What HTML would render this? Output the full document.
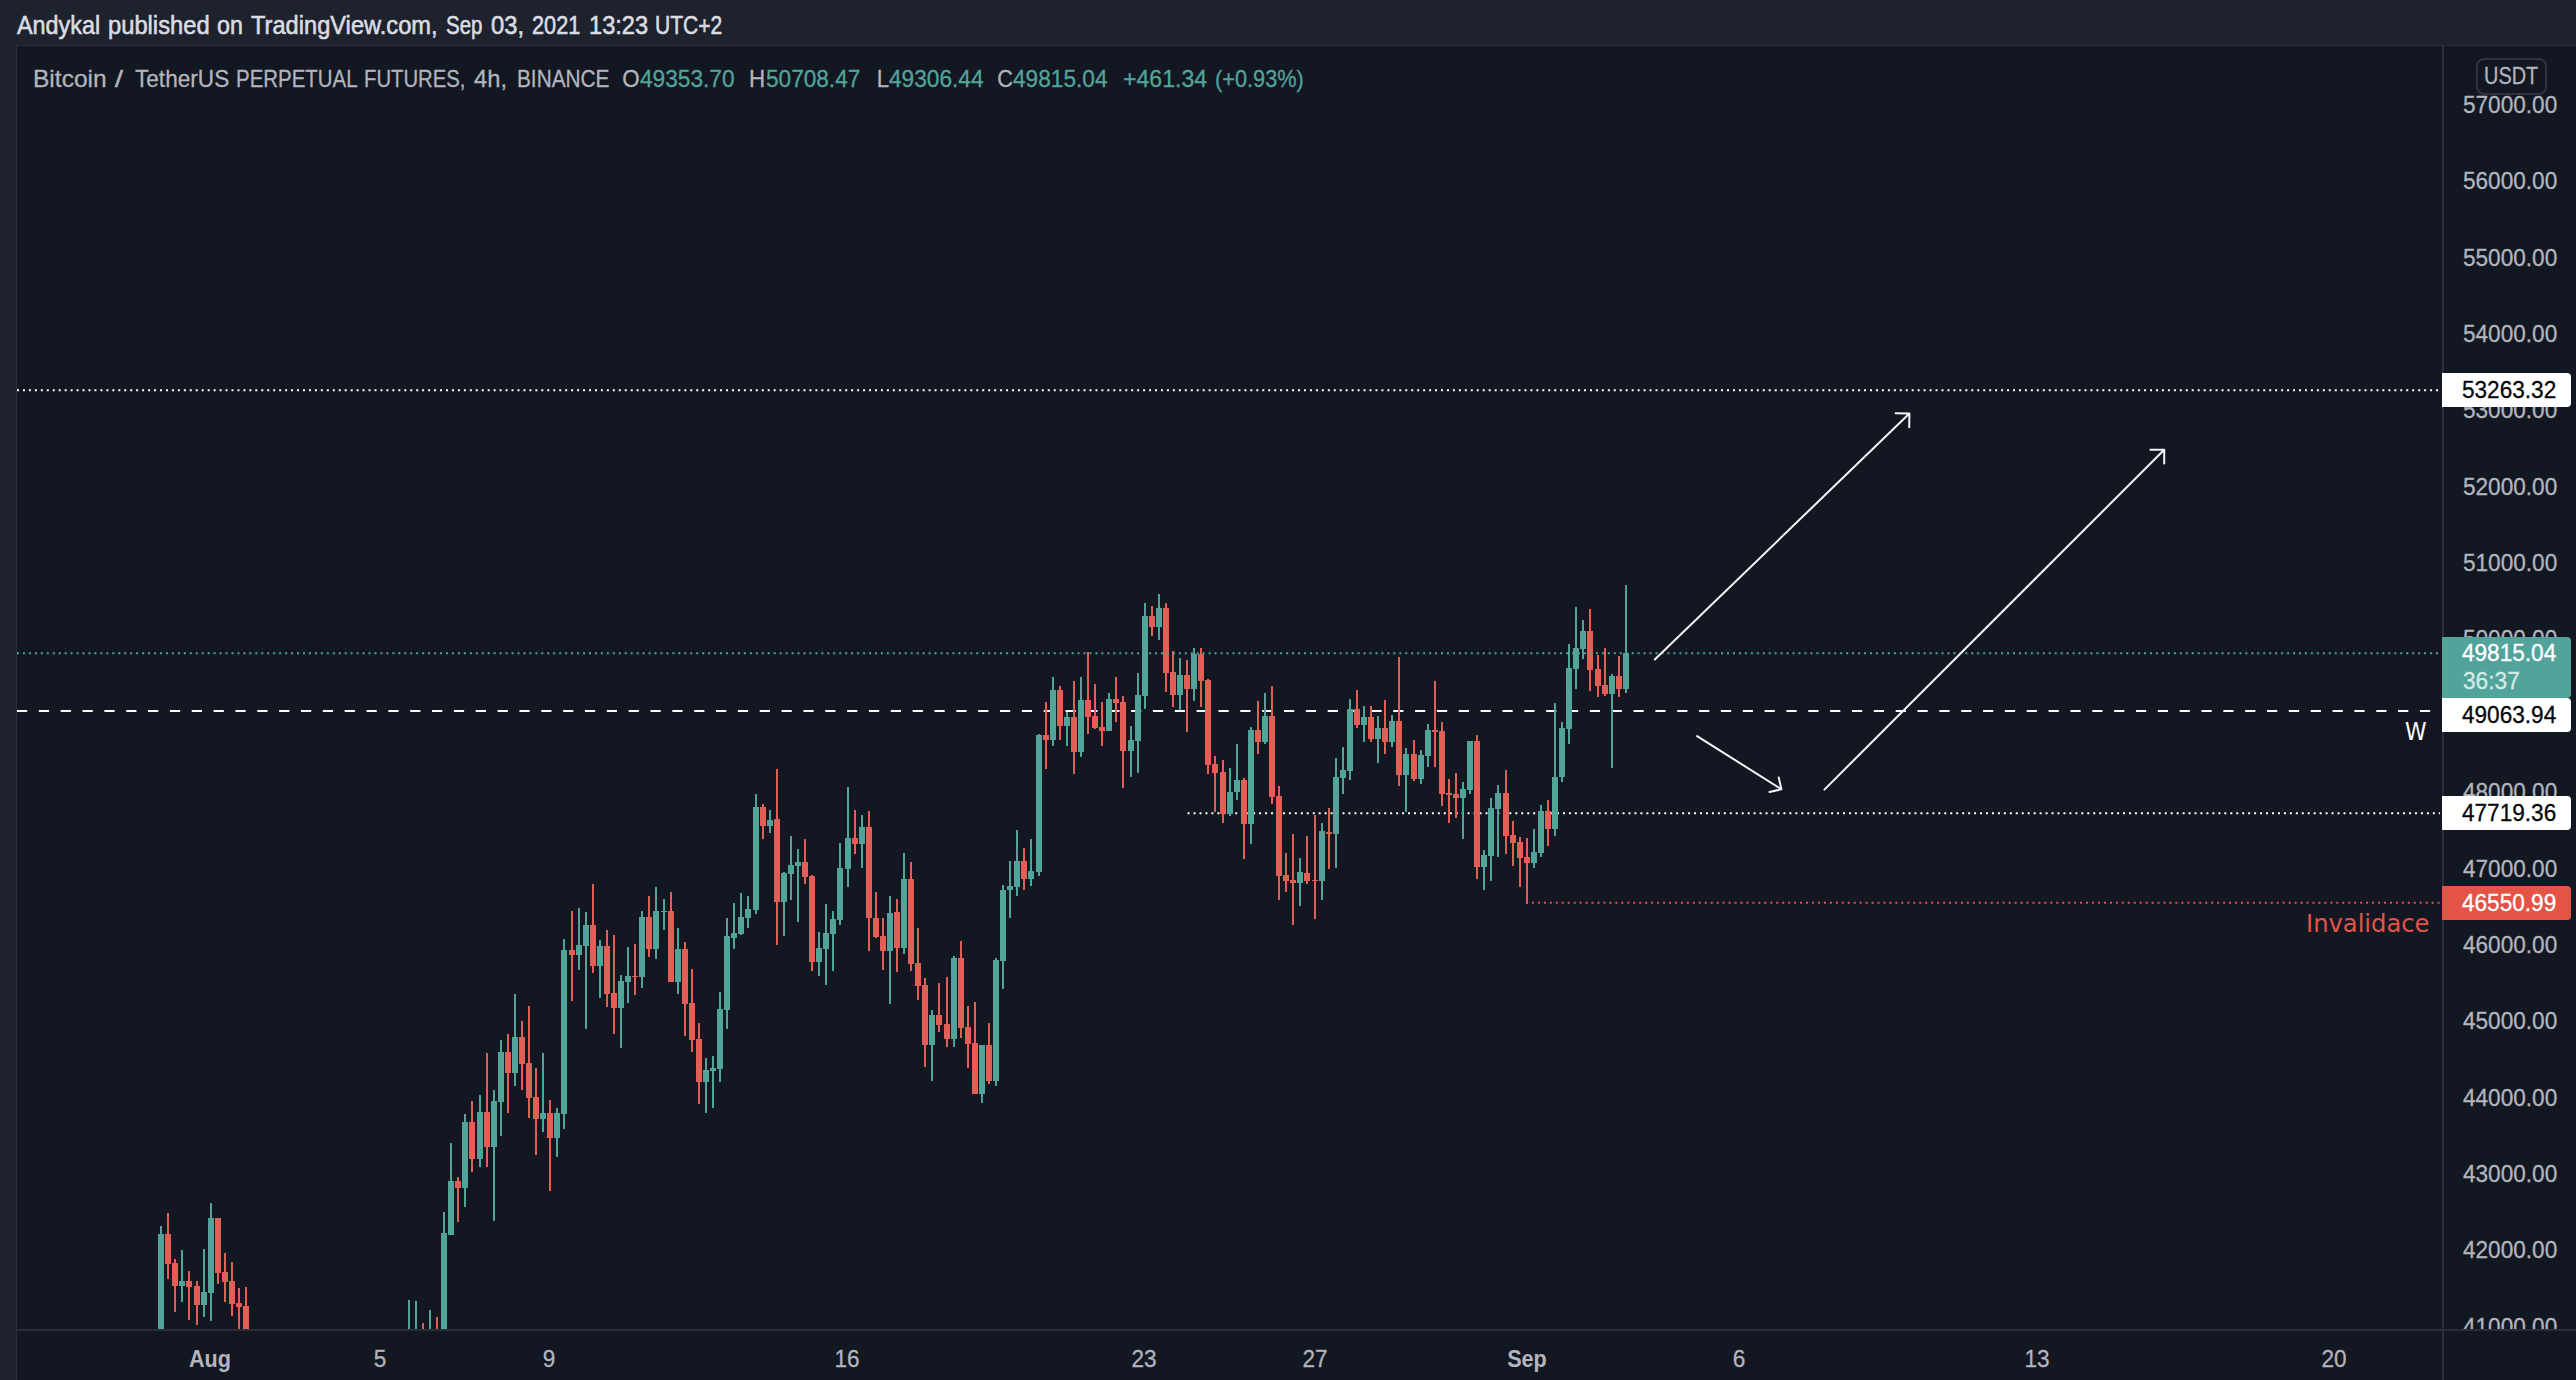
<!DOCTYPE html><html><head><meta charset="utf-8"><title>BTCUSDTPERP chart</title><style>
html,body{margin:0;padding:0;background:#1e222d;}
body{width:2576px;height:1380px;position:relative;overflow:hidden;font-family:"Liberation Sans",sans-serif;}
.t{position:absolute;white-space:pre;transform-origin:0 0;line-height:1;-webkit-text-stroke:0.3px currentColor;}.h{-webkit-text-stroke:0.6px currentColor;}.ns{-webkit-text-stroke:0;}
#chart{position:absolute;left:16px;top:45px;width:2560px;height:1335px;background:#131722;border-left:1px solid #2a2e39;border-top:1px solid #2a2e39;box-sizing:border-box;}
.lab{position:absolute;left:2442px;width:129px;border-radius:0 4px 4px 0;}
svg{position:absolute;left:0;top:0;}
</style></head><body>
<div id="chart"></div>
<svg width="2576" height="1380" viewBox="0 0 2576 1380"><defs><clipPath id="plot"><rect x="17" y="46" width="2425" height="1283"/></clipPath></defs><g clip-path="url(#plot)"><line x1="17" y1="390.2" x2="2440" y2="390.2" stroke="#ffffff" stroke-width="2" stroke-dasharray="2 3.9582"/><line x1="17" y1="711" x2="2432" y2="711" stroke="#ffffff" stroke-width="2" stroke-dasharray="10.2 11.645"/><line x1="1187.6" y1="813.2" x2="2440" y2="813.2" stroke="#ffffff" stroke-width="2" stroke-dasharray="2 3.9582"/></g><g clip-path="url(#plot)" shape-rendering="crispEdges"><rect x="160" y="1226" width="2" height="114" fill="#52a49a"/><rect x="158" y="1234" width="6" height="106" fill="#52a49a"/><rect x="167" y="1213" width="2" height="66" fill="#e15f54"/><rect x="165" y="1234" width="6" height="30" fill="#e15f54"/><rect x="174" y="1259" width="2" height="53" fill="#e15f54"/><rect x="172" y="1263" width="6" height="23" fill="#e15f54"/><rect x="181" y="1250" width="2" height="52" fill="#52a49a"/><rect x="179" y="1281" width="6" height="5" fill="#52a49a"/><rect x="188" y="1271" width="2" height="49" fill="#e15f54"/><rect x="186" y="1281" width="6" height="6" fill="#e15f54"/><rect x="196" y="1281" width="2" height="44" fill="#e15f54"/><rect x="194" y="1286" width="6" height="19" fill="#e15f54"/><rect x="203" y="1249" width="2" height="68" fill="#52a49a"/><rect x="201" y="1292" width="6" height="13" fill="#52a49a"/><rect x="210" y="1203" width="2" height="118" fill="#52a49a"/><rect x="208" y="1218" width="6" height="75" fill="#52a49a"/><rect x="217" y="1218" width="2" height="66" fill="#e15f54"/><rect x="215" y="1218" width="6" height="55" fill="#e15f54"/><rect x="224" y="1253" width="2" height="49" fill="#e15f54"/><rect x="222" y="1272" width="6" height="10" fill="#e15f54"/><rect x="231" y="1262" width="2" height="54" fill="#e15f54"/><rect x="229" y="1281" width="6" height="23" fill="#e15f54"/><rect x="238" y="1288" width="2" height="52" fill="#e15f54"/><rect x="236" y="1303" width="6" height="4" fill="#e15f54"/><rect x="245" y="1287" width="2" height="53" fill="#e15f54"/><rect x="243" y="1306" width="6" height="34" fill="#e15f54"/><rect x="408" y="1300" width="2" height="40" fill="#52a49a"/><rect x="415" y="1301" width="2" height="39" fill="#52a49a"/><rect x="422" y="1323" width="2" height="17" fill="#e15f54"/><rect x="429" y="1310" width="2" height="30" fill="#52a49a"/><rect x="436" y="1317" width="2" height="23" fill="#e15f54"/><rect x="443" y="1212" width="2" height="128" fill="#52a49a"/><rect x="441" y="1233" width="6" height="107" fill="#52a49a"/><rect x="450" y="1143" width="2" height="92" fill="#52a49a"/><rect x="448" y="1181" width="6" height="54" fill="#52a49a"/><rect x="457" y="1177" width="2" height="45" fill="#e15f54"/><rect x="455" y="1181" width="6" height="7" fill="#e15f54"/><rect x="464" y="1114" width="2" height="93" fill="#52a49a"/><rect x="462" y="1122" width="6" height="66" fill="#52a49a"/><rect x="471" y="1101" width="2" height="71" fill="#e15f54"/><rect x="469" y="1122" width="6" height="37" fill="#e15f54"/><rect x="479" y="1095" width="2" height="72" fill="#52a49a"/><rect x="477" y="1112" width="6" height="47" fill="#52a49a"/><rect x="486" y="1053" width="2" height="114" fill="#e15f54"/><rect x="484" y="1112" width="6" height="35" fill="#e15f54"/><rect x="493" y="1090" width="2" height="131" fill="#52a49a"/><rect x="491" y="1101" width="6" height="46" fill="#52a49a"/><rect x="500" y="1040" width="2" height="96" fill="#52a49a"/><rect x="498" y="1052" width="6" height="50" fill="#52a49a"/><rect x="507" y="1034" width="2" height="79" fill="#e15f54"/><rect x="505" y="1052" width="6" height="21" fill="#e15f54"/><rect x="514" y="994" width="2" height="92" fill="#52a49a"/><rect x="512" y="1037" width="6" height="36" fill="#52a49a"/><rect x="521" y="1021" width="2" height="69" fill="#e15f54"/><rect x="519" y="1037" width="6" height="27" fill="#e15f54"/><rect x="528" y="1006" width="2" height="112" fill="#e15f54"/><rect x="526" y="1063" width="6" height="35" fill="#e15f54"/><rect x="535" y="1068" width="2" height="87" fill="#e15f54"/><rect x="533" y="1097" width="6" height="22" fill="#e15f54"/><rect x="542" y="1053" width="2" height="79" fill="#52a49a"/><rect x="540" y="1113" width="6" height="6" fill="#52a49a"/><rect x="549" y="1100" width="2" height="91" fill="#e15f54"/><rect x="547" y="1113" width="6" height="25" fill="#e15f54"/><rect x="556" y="1108" width="2" height="49" fill="#52a49a"/><rect x="554" y="1113" width="6" height="25" fill="#52a49a"/><rect x="563" y="939" width="2" height="190" fill="#52a49a"/><rect x="561" y="950" width="6" height="164" fill="#52a49a"/><rect x="571" y="911" width="2" height="90" fill="#e15f54"/><rect x="569" y="950" width="6" height="5" fill="#e15f54"/><rect x="578" y="908" width="2" height="62" fill="#52a49a"/><rect x="576" y="945" width="6" height="10" fill="#52a49a"/><rect x="585" y="912" width="2" height="117" fill="#52a49a"/><rect x="583" y="925" width="6" height="21" fill="#52a49a"/><rect x="592" y="884" width="2" height="89" fill="#e15f54"/><rect x="590" y="925" width="6" height="41" fill="#e15f54"/><rect x="599" y="940" width="2" height="58" fill="#52a49a"/><rect x="597" y="946" width="6" height="20" fill="#52a49a"/><rect x="606" y="930" width="2" height="77" fill="#e15f54"/><rect x="604" y="946" width="6" height="48" fill="#e15f54"/><rect x="613" y="935" width="2" height="99" fill="#e15f54"/><rect x="611" y="993" width="6" height="15" fill="#e15f54"/><rect x="620" y="975" width="2" height="73" fill="#52a49a"/><rect x="618" y="981" width="6" height="27" fill="#52a49a"/><rect x="627" y="947" width="2" height="56" fill="#52a49a"/><rect x="625" y="976" width="6" height="6" fill="#52a49a"/><rect x="634" y="944" width="2" height="51" fill="#e15f54"/><rect x="632" y="976" width="6" height="1" fill="#e15f54"/><rect x="641" y="911" width="2" height="77" fill="#52a49a"/><rect x="639" y="917" width="6" height="60" fill="#52a49a"/><rect x="648" y="896" width="2" height="61" fill="#e15f54"/><rect x="646" y="917" width="6" height="32" fill="#e15f54"/><rect x="655" y="887" width="2" height="72" fill="#52a49a"/><rect x="653" y="911" width="6" height="38" fill="#52a49a"/><rect x="663" y="899" width="2" height="31" fill="#52a49a"/><rect x="661" y="911" width="6" height="1" fill="#52a49a"/><rect x="670" y="892" width="2" height="90" fill="#e15f54"/><rect x="668" y="911" width="6" height="71" fill="#e15f54"/><rect x="677" y="928" width="2" height="66" fill="#52a49a"/><rect x="675" y="949" width="6" height="33" fill="#52a49a"/><rect x="684" y="942" width="2" height="94" fill="#e15f54"/><rect x="682" y="949" width="6" height="55" fill="#e15f54"/><rect x="691" y="969" width="2" height="83" fill="#e15f54"/><rect x="689" y="1003" width="6" height="37" fill="#e15f54"/><rect x="698" y="1023" width="2" height="81" fill="#e15f54"/><rect x="696" y="1039" width="6" height="43" fill="#e15f54"/><rect x="705" y="1058" width="2" height="55" fill="#52a49a"/><rect x="703" y="1070" width="6" height="12" fill="#52a49a"/><rect x="712" y="1056" width="2" height="52" fill="#52a49a"/><rect x="710" y="1068" width="6" height="3" fill="#52a49a"/><rect x="719" y="992" width="2" height="90" fill="#52a49a"/><rect x="717" y="1009" width="6" height="60" fill="#52a49a"/><rect x="726" y="918" width="2" height="111" fill="#52a49a"/><rect x="724" y="936" width="6" height="74" fill="#52a49a"/><rect x="733" y="903" width="2" height="46" fill="#52a49a"/><rect x="731" y="933" width="6" height="5" fill="#52a49a"/><rect x="740" y="893" width="2" height="42" fill="#52a49a"/><rect x="738" y="917" width="6" height="17" fill="#52a49a"/><rect x="747" y="896" width="2" height="32" fill="#52a49a"/><rect x="745" y="909" width="6" height="9" fill="#52a49a"/><rect x="755" y="794" width="2" height="120" fill="#52a49a"/><rect x="753" y="807" width="6" height="103" fill="#52a49a"/><rect x="762" y="804" width="2" height="35" fill="#e15f54"/><rect x="760" y="807" width="6" height="19" fill="#e15f54"/><rect x="769" y="810" width="2" height="23" fill="#52a49a"/><rect x="767" y="820" width="6" height="6" fill="#52a49a"/><rect x="776" y="769" width="2" height="176" fill="#e15f54"/><rect x="774" y="819" width="6" height="83" fill="#e15f54"/><rect x="783" y="872" width="2" height="64" fill="#52a49a"/><rect x="781" y="873" width="6" height="29" fill="#52a49a"/><rect x="790" y="836" width="2" height="64" fill="#52a49a"/><rect x="788" y="865" width="6" height="9" fill="#52a49a"/><rect x="797" y="849" width="2" height="73" fill="#52a49a"/><rect x="795" y="862" width="6" height="4" fill="#52a49a"/><rect x="804" y="839" width="2" height="45" fill="#e15f54"/><rect x="802" y="862" width="6" height="15" fill="#e15f54"/><rect x="811" y="875" width="2" height="96" fill="#e15f54"/><rect x="809" y="876" width="6" height="86" fill="#e15f54"/><rect x="818" y="932" width="2" height="44" fill="#52a49a"/><rect x="816" y="948" width="6" height="14" fill="#52a49a"/><rect x="825" y="904" width="2" height="81" fill="#52a49a"/><rect x="823" y="933" width="6" height="16" fill="#52a49a"/><rect x="832" y="911" width="2" height="60" fill="#52a49a"/><rect x="830" y="919" width="6" height="15" fill="#52a49a"/><rect x="839" y="843" width="2" height="82" fill="#52a49a"/><rect x="837" y="868" width="6" height="52" fill="#52a49a"/><rect x="847" y="787" width="2" height="100" fill="#52a49a"/><rect x="845" y="838" width="6" height="31" fill="#52a49a"/><rect x="854" y="810" width="2" height="44" fill="#e15f54"/><rect x="852" y="838" width="6" height="6" fill="#e15f54"/><rect x="861" y="815" width="2" height="53" fill="#52a49a"/><rect x="859" y="827" width="6" height="17" fill="#52a49a"/><rect x="868" y="811" width="2" height="140" fill="#e15f54"/><rect x="866" y="827" width="6" height="91" fill="#e15f54"/><rect x="875" y="892" width="2" height="46" fill="#e15f54"/><rect x="873" y="918" width="6" height="19" fill="#e15f54"/><rect x="882" y="918" width="2" height="52" fill="#e15f54"/><rect x="880" y="936" width="6" height="15" fill="#e15f54"/><rect x="889" y="896" width="2" height="108" fill="#52a49a"/><rect x="887" y="913" width="6" height="38" fill="#52a49a"/><rect x="896" y="899" width="2" height="73" fill="#e15f54"/><rect x="894" y="912" width="6" height="36" fill="#e15f54"/><rect x="903" y="853" width="2" height="101" fill="#52a49a"/><rect x="901" y="879" width="6" height="69" fill="#52a49a"/><rect x="910" y="862" width="2" height="109" fill="#e15f54"/><rect x="908" y="879" width="6" height="85" fill="#e15f54"/><rect x="917" y="928" width="2" height="72" fill="#e15f54"/><rect x="915" y="963" width="6" height="23" fill="#e15f54"/><rect x="924" y="978" width="2" height="89" fill="#e15f54"/><rect x="922" y="985" width="6" height="60" fill="#e15f54"/><rect x="931" y="1010" width="2" height="71" fill="#52a49a"/><rect x="929" y="1015" width="6" height="30" fill="#52a49a"/><rect x="938" y="983" width="2" height="49" fill="#e15f54"/><rect x="936" y="1015" width="6" height="10" fill="#e15f54"/><rect x="946" y="977" width="2" height="70" fill="#e15f54"/><rect x="944" y="1024" width="6" height="15" fill="#e15f54"/><rect x="953" y="956" width="2" height="91" fill="#52a49a"/><rect x="951" y="958" width="6" height="81" fill="#52a49a"/><rect x="960" y="941" width="2" height="97" fill="#e15f54"/><rect x="958" y="958" width="6" height="70" fill="#e15f54"/><rect x="967" y="1006" width="2" height="62" fill="#e15f54"/><rect x="965" y="1027" width="6" height="17" fill="#e15f54"/><rect x="974" y="1002" width="2" height="92" fill="#e15f54"/><rect x="972" y="1043" width="6" height="51" fill="#e15f54"/><rect x="981" y="1045" width="2" height="58" fill="#52a49a"/><rect x="979" y="1045" width="6" height="49" fill="#52a49a"/><rect x="988" y="1023" width="2" height="61" fill="#e15f54"/><rect x="986" y="1045" width="6" height="36" fill="#e15f54"/><rect x="995" y="958" width="2" height="128" fill="#52a49a"/><rect x="993" y="960" width="6" height="121" fill="#52a49a"/><rect x="1002" y="885" width="2" height="104" fill="#52a49a"/><rect x="1000" y="890" width="6" height="71" fill="#52a49a"/><rect x="1009" y="861" width="2" height="57" fill="#52a49a"/><rect x="1007" y="886" width="6" height="4" fill="#52a49a"/><rect x="1016" y="830" width="2" height="66" fill="#52a49a"/><rect x="1014" y="861" width="6" height="26" fill="#52a49a"/><rect x="1023" y="848" width="2" height="42" fill="#e15f54"/><rect x="1021" y="861" width="6" height="18" fill="#e15f54"/><rect x="1030" y="839" width="2" height="47" fill="#52a49a"/><rect x="1028" y="871" width="6" height="8" fill="#52a49a"/><rect x="1038" y="734" width="2" height="142" fill="#52a49a"/><rect x="1036" y="735" width="6" height="137" fill="#52a49a"/><rect x="1045" y="702" width="2" height="67" fill="#e15f54"/><rect x="1043" y="735" width="6" height="5" fill="#e15f54"/><rect x="1052" y="677" width="2" height="69" fill="#52a49a"/><rect x="1050" y="690" width="6" height="50" fill="#52a49a"/><rect x="1059" y="686" width="2" height="54" fill="#e15f54"/><rect x="1057" y="690" width="6" height="36" fill="#e15f54"/><rect x="1066" y="712" width="2" height="34" fill="#52a49a"/><rect x="1064" y="717" width="6" height="9" fill="#52a49a"/><rect x="1073" y="681" width="2" height="93" fill="#e15f54"/><rect x="1071" y="717" width="6" height="35" fill="#e15f54"/><rect x="1080" y="677" width="2" height="80" fill="#52a49a"/><rect x="1078" y="700" width="6" height="52" fill="#52a49a"/><rect x="1087" y="652" width="2" height="82" fill="#e15f54"/><rect x="1085" y="700" width="6" height="17" fill="#e15f54"/><rect x="1094" y="684" width="2" height="45" fill="#e15f54"/><rect x="1092" y="716" width="6" height="12" fill="#e15f54"/><rect x="1101" y="702" width="2" height="44" fill="#e15f54"/><rect x="1099" y="727" width="6" height="4" fill="#e15f54"/><rect x="1108" y="693" width="2" height="38" fill="#52a49a"/><rect x="1106" y="699" width="6" height="32" fill="#52a49a"/><rect x="1115" y="677" width="2" height="45" fill="#e15f54"/><rect x="1113" y="699" width="6" height="4" fill="#e15f54"/><rect x="1122" y="696" width="2" height="92" fill="#e15f54"/><rect x="1120" y="702" width="6" height="49" fill="#e15f54"/><rect x="1130" y="726" width="2" height="51" fill="#52a49a"/><rect x="1128" y="740" width="6" height="11" fill="#52a49a"/><rect x="1137" y="673" width="2" height="100" fill="#52a49a"/><rect x="1135" y="695" width="6" height="46" fill="#52a49a"/><rect x="1144" y="603" width="2" height="106" fill="#52a49a"/><rect x="1142" y="616" width="6" height="80" fill="#52a49a"/><rect x="1151" y="606" width="2" height="30" fill="#e15f54"/><rect x="1149" y="616" width="6" height="11" fill="#e15f54"/><rect x="1158" y="594" width="2" height="46" fill="#52a49a"/><rect x="1156" y="608" width="6" height="19" fill="#52a49a"/><rect x="1165" y="603" width="2" height="89" fill="#e15f54"/><rect x="1163" y="608" width="6" height="65" fill="#e15f54"/><rect x="1172" y="651" width="2" height="56" fill="#e15f54"/><rect x="1170" y="672" width="6" height="23" fill="#e15f54"/><rect x="1179" y="658" width="2" height="52" fill="#52a49a"/><rect x="1177" y="675" width="6" height="20" fill="#52a49a"/><rect x="1186" y="660" width="2" height="72" fill="#e15f54"/><rect x="1184" y="675" width="6" height="14" fill="#e15f54"/><rect x="1193" y="648" width="2" height="53" fill="#52a49a"/><rect x="1191" y="654" width="6" height="35" fill="#52a49a"/><rect x="1200" y="648" width="2" height="59" fill="#e15f54"/><rect x="1198" y="654" width="6" height="27" fill="#e15f54"/><rect x="1207" y="679" width="2" height="95" fill="#e15f54"/><rect x="1205" y="680" width="6" height="85" fill="#e15f54"/><rect x="1214" y="756" width="2" height="56" fill="#e15f54"/><rect x="1212" y="764" width="6" height="9" fill="#e15f54"/><rect x="1222" y="760" width="2" height="63" fill="#e15f54"/><rect x="1220" y="772" width="6" height="42" fill="#e15f54"/><rect x="1229" y="768" width="2" height="48" fill="#52a49a"/><rect x="1227" y="792" width="6" height="22" fill="#52a49a"/><rect x="1236" y="744" width="2" height="56" fill="#52a49a"/><rect x="1234" y="780" width="6" height="12" fill="#52a49a"/><rect x="1243" y="778" width="2" height="81" fill="#e15f54"/><rect x="1241" y="780" width="6" height="44" fill="#e15f54"/><rect x="1250" y="727" width="2" height="117" fill="#52a49a"/><rect x="1248" y="730" width="6" height="94" fill="#52a49a"/><rect x="1257" y="701" width="2" height="53" fill="#e15f54"/><rect x="1255" y="730" width="6" height="12" fill="#e15f54"/><rect x="1264" y="693" width="2" height="51" fill="#52a49a"/><rect x="1262" y="716" width="6" height="26" fill="#52a49a"/><rect x="1271" y="686" width="2" height="118" fill="#e15f54"/><rect x="1269" y="716" width="6" height="81" fill="#e15f54"/><rect x="1278" y="786" width="2" height="114" fill="#e15f54"/><rect x="1276" y="796" width="6" height="80" fill="#e15f54"/><rect x="1285" y="853" width="2" height="39" fill="#e15f54"/><rect x="1283" y="875" width="6" height="6" fill="#e15f54"/><rect x="1292" y="834" width="2" height="91" fill="#e15f54"/><rect x="1290" y="880" width="6" height="3" fill="#e15f54"/><rect x="1299" y="858" width="2" height="48" fill="#52a49a"/><rect x="1297" y="872" width="6" height="11" fill="#52a49a"/><rect x="1306" y="836" width="2" height="48" fill="#e15f54"/><rect x="1304" y="873" width="6" height="8" fill="#e15f54"/><rect x="1314" y="815" width="2" height="104" fill="#e15f54"/><rect x="1312" y="880" width="6" height="1" fill="#e15f54"/><rect x="1321" y="823" width="2" height="77" fill="#52a49a"/><rect x="1319" y="831" width="6" height="50" fill="#52a49a"/><rect x="1328" y="808" width="2" height="61" fill="#e15f54"/><rect x="1326" y="832" width="6" height="2" fill="#e15f54"/><rect x="1335" y="758" width="2" height="110" fill="#52a49a"/><rect x="1333" y="777" width="6" height="57" fill="#52a49a"/><rect x="1342" y="747" width="2" height="47" fill="#52a49a"/><rect x="1340" y="770" width="6" height="8" fill="#52a49a"/><rect x="1349" y="699" width="2" height="81" fill="#52a49a"/><rect x="1347" y="709" width="6" height="62" fill="#52a49a"/><rect x="1356" y="690" width="2" height="38" fill="#e15f54"/><rect x="1354" y="709" width="6" height="16" fill="#e15f54"/><rect x="1363" y="706" width="2" height="36" fill="#52a49a"/><rect x="1361" y="717" width="6" height="8" fill="#52a49a"/><rect x="1370" y="706" width="2" height="36" fill="#e15f54"/><rect x="1368" y="717" width="6" height="22" fill="#e15f54"/><rect x="1377" y="716" width="2" height="47" fill="#52a49a"/><rect x="1375" y="728" width="6" height="11" fill="#52a49a"/><rect x="1384" y="700" width="2" height="54" fill="#e15f54"/><rect x="1382" y="728" width="6" height="14" fill="#e15f54"/><rect x="1391" y="715" width="2" height="32" fill="#52a49a"/><rect x="1389" y="721" width="6" height="21" fill="#52a49a"/><rect x="1398" y="657" width="2" height="129" fill="#e15f54"/><rect x="1396" y="721" width="6" height="54" fill="#e15f54"/><rect x="1405" y="748" width="2" height="64" fill="#52a49a"/><rect x="1403" y="754" width="6" height="21" fill="#52a49a"/><rect x="1413" y="740" width="2" height="41" fill="#e15f54"/><rect x="1411" y="754" width="6" height="25" fill="#e15f54"/><rect x="1420" y="750" width="2" height="34" fill="#52a49a"/><rect x="1418" y="755" width="6" height="24" fill="#52a49a"/><rect x="1427" y="724" width="2" height="43" fill="#52a49a"/><rect x="1425" y="730" width="6" height="26" fill="#52a49a"/><rect x="1434" y="681" width="2" height="86" fill="#e15f54"/><rect x="1432" y="730" width="6" height="2" fill="#e15f54"/><rect x="1441" y="722" width="2" height="84" fill="#e15f54"/><rect x="1439" y="731" width="6" height="63" fill="#e15f54"/><rect x="1448" y="779" width="2" height="44" fill="#e15f54"/><rect x="1446" y="793" width="6" height="2" fill="#e15f54"/><rect x="1455" y="773" width="2" height="45" fill="#e15f54"/><rect x="1453" y="794" width="6" height="4" fill="#e15f54"/><rect x="1462" y="782" width="2" height="57" fill="#52a49a"/><rect x="1460" y="789" width="6" height="9" fill="#52a49a"/><rect x="1469" y="741" width="2" height="53" fill="#52a49a"/><rect x="1467" y="741" width="6" height="49" fill="#52a49a"/><rect x="1476" y="735" width="2" height="144" fill="#e15f54"/><rect x="1474" y="741" width="6" height="126" fill="#e15f54"/><rect x="1483" y="850" width="2" height="40" fill="#52a49a"/><rect x="1481" y="855" width="6" height="12" fill="#52a49a"/><rect x="1490" y="798" width="2" height="83" fill="#52a49a"/><rect x="1488" y="808" width="6" height="48" fill="#52a49a"/><rect x="1497" y="785" width="2" height="72" fill="#52a49a"/><rect x="1495" y="793" width="6" height="16" fill="#52a49a"/><rect x="1505" y="770" width="2" height="84" fill="#e15f54"/><rect x="1503" y="793" width="6" height="43" fill="#e15f54"/><rect x="1512" y="821" width="2" height="45" fill="#e15f54"/><rect x="1510" y="835" width="6" height="8" fill="#e15f54"/><rect x="1519" y="837" width="2" height="50" fill="#e15f54"/><rect x="1517" y="842" width="6" height="16" fill="#e15f54"/><rect x="1526" y="838" width="2" height="66" fill="#e15f54"/><rect x="1524" y="857" width="6" height="6" fill="#e15f54"/><rect x="1533" y="829" width="2" height="39" fill="#52a49a"/><rect x="1531" y="852" width="6" height="11" fill="#52a49a"/><rect x="1540" y="805" width="2" height="52" fill="#52a49a"/><rect x="1538" y="811" width="6" height="42" fill="#52a49a"/><rect x="1547" y="800" width="2" height="46" fill="#e15f54"/><rect x="1545" y="811" width="6" height="18" fill="#e15f54"/><rect x="1554" y="703" width="2" height="133" fill="#52a49a"/><rect x="1552" y="777" width="6" height="52" fill="#52a49a"/><rect x="1561" y="722" width="2" height="60" fill="#52a49a"/><rect x="1559" y="728" width="6" height="49" fill="#52a49a"/><rect x="1568" y="644" width="2" height="100" fill="#52a49a"/><rect x="1566" y="668" width="6" height="61" fill="#52a49a"/><rect x="1575" y="607" width="2" height="82" fill="#52a49a"/><rect x="1573" y="648" width="6" height="21" fill="#52a49a"/><rect x="1582" y="620" width="2" height="39" fill="#52a49a"/><rect x="1580" y="631" width="6" height="18" fill="#52a49a"/><rect x="1589" y="609" width="2" height="82" fill="#e15f54"/><rect x="1587" y="631" width="6" height="39" fill="#e15f54"/><rect x="1597" y="655" width="2" height="42" fill="#e15f54"/><rect x="1595" y="669" width="6" height="17" fill="#e15f54"/><rect x="1604" y="648" width="2" height="48" fill="#e15f54"/><rect x="1602" y="685" width="6" height="9" fill="#e15f54"/><rect x="1611" y="674" width="2" height="94" fill="#52a49a"/><rect x="1609" y="676" width="6" height="18" fill="#52a49a"/><rect x="1618" y="656" width="2" height="41" fill="#e15f54"/><rect x="1616" y="676" width="6" height="13" fill="#e15f54"/><rect x="1625" y="585" width="2" height="108" fill="#52a49a"/><rect x="1623" y="653" width="6" height="36" fill="#52a49a"/></g><line x1="1526" y1="902.8" x2="2440" y2="902.8" stroke="#e35446" stroke-width="2" stroke-dasharray="2 3.9582"/><line x1="17" y1="653.3" x2="2440" y2="653.3" stroke="#52a49a" stroke-width="2" stroke-dasharray="2 3.9582"/><g clip-path="url(#plot)" stroke="#f4f5f7" stroke-width="2" fill="none" stroke-linecap="round" stroke-linejoin="round"><path d="M1654.8 659.5 L1909.4 413.5 M1895.6 413.3 L1909.4 413.5 L1909.2 427.3"/><path d="M1697.1 736.1 L1781.4 789.3 M1778.7 777.4 L1781.4 789.3 L1769.5 792.0"/><path d="M1824.4 789.6 L2164.2 449.8 M2150.4 449.8 L2164.2 449.8 L2164.2 463.6"/></g><rect x="2442" y="46" width="2" height="1334" fill="#2a2e39"/><rect x="17" y="1329" width="2559" height="2" fill="#2a2e39"/></svg>
<div id="paxis" style="position:absolute;left:0;top:0;width:2576px;height:1329px;overflow:hidden">
<span class="t " id="p57000" style="left:2463.1px;top:92.9px;font-size:24px;color:#b2b5be;font-weight:normal;font-family:'Liberation Sans',sans-serif;transform:scaleX(0.9410)">57000.00</span>
<span class="t " id="p56000" style="left:2463.1px;top:169.2px;font-size:24px;color:#b2b5be;font-weight:normal;font-family:'Liberation Sans',sans-serif;transform:scaleX(0.9410)">56000.00</span>
<span class="t " id="p55000" style="left:2463.1px;top:245.6px;font-size:24px;color:#b2b5be;font-weight:normal;font-family:'Liberation Sans',sans-serif;transform:scaleX(0.9410)">55000.00</span>
<span class="t " id="p54000" style="left:2463.1px;top:322.0px;font-size:24px;color:#b2b5be;font-weight:normal;font-family:'Liberation Sans',sans-serif;transform:scaleX(0.9410)">54000.00</span>
<span class="t " id="p53000" style="left:2463.1px;top:398.3px;font-size:24px;color:#b2b5be;font-weight:normal;font-family:'Liberation Sans',sans-serif;transform:scaleX(0.9410)">53000.00</span>
<span class="t " id="p52000" style="left:2463.1px;top:474.7px;font-size:24px;color:#b2b5be;font-weight:normal;font-family:'Liberation Sans',sans-serif;transform:scaleX(0.9410)">52000.00</span>
<span class="t " id="p51000" style="left:2463.1px;top:551.1px;font-size:24px;color:#b2b5be;font-weight:normal;font-family:'Liberation Sans',sans-serif;transform:scaleX(0.9410)">51000.00</span>
<span class="t " id="p50000" style="left:2463.1px;top:627.4px;font-size:24px;color:#b2b5be;font-weight:normal;font-family:'Liberation Sans',sans-serif;transform:scaleX(0.9410)">50000.00</span>
<span class="t " id="p49000" style="left:2463.1px;top:703.8px;font-size:24px;color:#b2b5be;font-weight:normal;font-family:'Liberation Sans',sans-serif;transform:scaleX(0.9410)">49000.00</span>
<span class="t " id="p48000" style="left:2463.1px;top:780.2px;font-size:24px;color:#b2b5be;font-weight:normal;font-family:'Liberation Sans',sans-serif;transform:scaleX(0.9410)">48000.00</span>
<span class="t " id="p47000" style="left:2463.1px;top:856.5px;font-size:24px;color:#b2b5be;font-weight:normal;font-family:'Liberation Sans',sans-serif;transform:scaleX(0.9410)">47000.00</span>
<span class="t " id="p46000" style="left:2463.1px;top:932.9px;font-size:24px;color:#b2b5be;font-weight:normal;font-family:'Liberation Sans',sans-serif;transform:scaleX(0.9410)">46000.00</span>
<span class="t " id="p45000" style="left:2463.1px;top:1009.2px;font-size:24px;color:#b2b5be;font-weight:normal;font-family:'Liberation Sans',sans-serif;transform:scaleX(0.9410)">45000.00</span>
<span class="t " id="p44000" style="left:2463.1px;top:1085.6px;font-size:24px;color:#b2b5be;font-weight:normal;font-family:'Liberation Sans',sans-serif;transform:scaleX(0.9410)">44000.00</span>
<span class="t " id="p43000" style="left:2463.1px;top:1162.0px;font-size:24px;color:#b2b5be;font-weight:normal;font-family:'Liberation Sans',sans-serif;transform:scaleX(0.9410)">43000.00</span>
<span class="t " id="p42000" style="left:2463.1px;top:1238.3px;font-size:24px;color:#b2b5be;font-weight:normal;font-family:'Liberation Sans',sans-serif;transform:scaleX(0.9410)">42000.00</span>
<span class="t " id="p41000" style="left:2463.1px;top:1314.7px;font-size:24px;color:#b2b5be;font-weight:normal;font-family:'Liberation Sans',sans-serif;transform:scaleX(0.9410)">41000.00</span>
</div>
<span class="t h" id="hdr0" style="left:16.9px;top:12.3px;font-size:26px;color:#dadce2;font-weight:normal;font-family:'Liberation Sans',sans-serif;transform:scaleX(0.8995)">Andykal</span>
<span class="t h" id="hdr1" style="left:107.6px;top:12.3px;font-size:26px;color:#dadce2;font-weight:normal;font-family:'Liberation Sans',sans-serif;transform:scaleX(0.9127)">published</span>
<span class="t h" id="hdr2" style="left:216.7px;top:12.3px;font-size:26px;color:#dadce2;font-weight:normal;font-family:'Liberation Sans',sans-serif;transform:scaleX(0.8955)">on</span>
<span class="t h" id="hdr3" style="left:250.7px;top:12.3px;font-size:26px;color:#dadce2;font-weight:normal;font-family:'Liberation Sans',sans-serif;transform:scaleX(0.9093)">TradingView.com,</span>
<span class="t h" id="hdr4" style="left:446.2px;top:12.3px;font-size:26px;color:#dadce2;font-weight:normal;font-family:'Liberation Sans',sans-serif;transform:scaleX(0.7868)">Sep</span>
<span class="t h" id="hdr5" style="left:490.7px;top:12.3px;font-size:26px;color:#dadce2;font-weight:normal;font-family:'Liberation Sans',sans-serif;transform:scaleX(0.9127)">03,</span>
<span class="t h" id="hdr6" style="left:532.1px;top:12.3px;font-size:26px;color:#dadce2;font-weight:normal;font-family:'Liberation Sans',sans-serif;transform:scaleX(0.8350)">2021</span>
<span class="t h" id="hdr7" style="left:589.3px;top:12.3px;font-size:26px;color:#dadce2;font-weight:normal;font-family:'Liberation Sans',sans-serif;transform:scaleX(0.9081)">13:23</span>
<span class="t h" id="hdr8" style="left:655.3px;top:12.3px;font-size:26px;color:#dadce2;font-weight:normal;font-family:'Liberation Sans',sans-serif;transform:scaleX(0.8101)">UTC+2</span>
<span class="t " id="lg0" style="left:33.0px;top:67.0px;font-size:24px;color:#b2b5be;font-weight:normal;font-family:'Liberation Sans',sans-serif;transform:scaleX(1.0229)">Bitcoin</span>
<span class="t " id="lg1" style="left:134.8px;top:67.0px;font-size:24px;color:#b2b5be;font-weight:normal;font-family:'Liberation Sans',sans-serif;transform:scaleX(0.9416)">TetherUS</span>
<span class="t " id="lg2" style="left:236.1px;top:67.0px;font-size:24px;color:#b2b5be;font-weight:normal;font-family:'Liberation Sans',sans-serif;transform:scaleX(0.8513)">PERPETUAL</span>
<span class="t " id="lg3" style="left:364.4px;top:67.0px;font-size:24px;color:#b2b5be;font-weight:normal;font-family:'Liberation Sans',sans-serif;transform:scaleX(0.8458)">FUTURES,</span>
<span class="t " id="lg4" style="left:473.7px;top:67.0px;font-size:24px;color:#b2b5be;font-weight:normal;font-family:'Liberation Sans',sans-serif;transform:scaleX(0.9888)">4h,</span>
<span class="t " id="lg5" style="left:516.8px;top:67.0px;font-size:24px;color:#b2b5be;font-weight:normal;font-family:'Liberation Sans',sans-serif;transform:scaleX(0.8661)">BINANCE</span>
<span class="t " id="lgsl" style="left:119.2px;top:67.0px;font-size:24px;color:#b2b5be;font-weight:normal;font-family:'Liberation Sans',sans-serif;transform-origin:50% 0;transform:translateX(-50%) scaleX(1.2500)">/</span>
<span class="t " id="lgO" style="left:631.0px;top:67.0px;font-size:24px;color:#b2b5be;font-weight:normal;font-family:'Liberation Sans',sans-serif;transform-origin:50% 0;transform:translateX(-50%) scaleX(0.9300)">O</span>
<span class="t " id="lgOv" style="left:639.7px;top:67.0px;font-size:24px;color:#52a49a;font-weight:normal;font-family:'Liberation Sans',sans-serif;transform:scaleX(0.9450)">49353.70</span>
<span class="t " id="lgH" style="left:757.2px;top:67.0px;font-size:24px;color:#b2b5be;font-weight:normal;font-family:'Liberation Sans',sans-serif;transform-origin:50% 0;transform:translateX(-50%) scaleX(0.9300)">H</span>
<span class="t " id="lgHv" style="left:766.0px;top:67.0px;font-size:24px;color:#52a49a;font-weight:normal;font-family:'Liberation Sans',sans-serif;transform:scaleX(0.9420)">50708.47</span>
<span class="t " id="lgL" style="left:882.6px;top:67.0px;font-size:24px;color:#b2b5be;font-weight:normal;font-family:'Liberation Sans',sans-serif;transform-origin:50% 0;transform:translateX(-50%) scaleX(0.9300)">L</span>
<span class="t " id="lgLv" style="left:888.6px;top:67.0px;font-size:24px;color:#52a49a;font-weight:normal;font-family:'Liberation Sans',sans-serif;transform:scaleX(0.9450)">49306.44</span>
<span class="t " id="lgC" style="left:1004.8px;top:67.0px;font-size:24px;color:#b2b5be;font-weight:normal;font-family:'Liberation Sans',sans-serif;transform-origin:50% 0;transform:translateX(-50%) scaleX(0.9000)">C</span>
<span class="t " id="lgCv" style="left:1012.9px;top:67.0px;font-size:24px;color:#52a49a;font-weight:normal;font-family:'Liberation Sans',sans-serif;transform:scaleX(0.9450)">49815.04</span>
<span class="t " id="lgchg" style="left:1122.8px;top:67.0px;font-size:24px;color:#52a49a;font-weight:normal;font-family:'Liberation Sans',sans-serif;transform:scaleX(0.9620)">+461.34</span>
<span class="t " id="lgchp" style="left:1215.0px;top:67.0px;font-size:24px;color:#52a49a;font-weight:normal;font-family:'Liberation Sans',sans-serif;transform:scaleX(0.9055)">(+0.93%)</span>
<span class="t ns" id="tAug" style="left:210.3px;top:1346.7px;font-size:24px;color:#b2b5be;font-weight:bold;font-family:'Liberation Sans',sans-serif;transform-origin:50% 0;transform:translateX(-50%) scaleX(0.9000)">Aug</span>
<span class="t " id="t5" style="left:379.5px;top:1346.7px;font-size:24px;color:#b2b5be;font-weight:normal;font-family:'Liberation Sans',sans-serif;transform-origin:50% 0;transform:translateX(-50%) scaleX(0.9400)">5</span>
<span class="t " id="t9" style="left:549.3px;top:1346.7px;font-size:24px;color:#b2b5be;font-weight:normal;font-family:'Liberation Sans',sans-serif;transform-origin:50% 0;transform:translateX(-50%) scaleX(0.9400)">9</span>
<span class="t " id="t16" style="left:846.5px;top:1346.7px;font-size:24px;color:#b2b5be;font-weight:normal;font-family:'Liberation Sans',sans-serif;transform-origin:50% 0;transform:translateX(-50%) scaleX(0.9400)">16</span>
<span class="t " id="t23" style="left:1144.0px;top:1346.7px;font-size:24px;color:#b2b5be;font-weight:normal;font-family:'Liberation Sans',sans-serif;transform-origin:50% 0;transform:translateX(-50%) scaleX(0.9400)">23</span>
<span class="t " id="t27" style="left:1314.5px;top:1346.7px;font-size:24px;color:#b2b5be;font-weight:normal;font-family:'Liberation Sans',sans-serif;transform-origin:50% 0;transform:translateX(-50%) scaleX(0.9400)">27</span>
<span class="t ns" id="tSep" style="left:1527.2px;top:1346.7px;font-size:24px;color:#b2b5be;font-weight:bold;font-family:'Liberation Sans',sans-serif;transform-origin:50% 0;transform:translateX(-50%) scaleX(0.9000)">Sep</span>
<span class="t " id="t6" style="left:1739.0px;top:1346.7px;font-size:24px;color:#b2b5be;font-weight:normal;font-family:'Liberation Sans',sans-serif;transform-origin:50% 0;transform:translateX(-50%) scaleX(0.9400)">6</span>
<span class="t " id="t13" style="left:2036.6px;top:1346.7px;font-size:24px;color:#b2b5be;font-weight:normal;font-family:'Liberation Sans',sans-serif;transform-origin:50% 0;transform:translateX(-50%) scaleX(0.9400)">13</span>
<span class="t " id="t20" style="left:2334.0px;top:1346.7px;font-size:24px;color:#b2b5be;font-weight:normal;font-family:'Liberation Sans',sans-serif;transform-origin:50% 0;transform:translateX(-50%) scaleX(0.9400)">20</span>
<div style="position:absolute;left:2476px;top:58px;width:71px;height:37px;box-sizing:border-box;border:2px solid #2f3340;border-radius:8px;background:#131722"></div>
<span class="t " id="usdt" style="left:2484.4px;top:64.2px;font-size:24px;color:#b2b5be;font-weight:normal;font-family:'Liberation Sans',sans-serif;transform:scaleX(0.8295)">USDT</span>
<div class="lab" style="top:373px;height:34px;background:#fff"></div>
<span class="t " id="l1" style="left:2462.3px;top:377.6px;font-size:24px;color:#05070c;font-weight:normal;font-family:'Liberation Sans',sans-serif;transform:scaleX(0.9410)">53263.32</span>
<div class="lab" style="top:637px;height:61px;background:#52a49a"></div>
<span class="t " id="l2" style="left:2462.3px;top:641.2px;font-size:24px;color:#ffffff;font-weight:normal;font-family:'Liberation Sans',sans-serif;transform:scaleX(0.9410)">49815.04</span>
<span class="t " id="l2b" style="left:2463.1px;top:669.2px;font-size:24px;color:#d6ebe8;font-weight:normal;font-family:'Liberation Sans',sans-serif;transform:scaleX(0.9457)">36:37</span>
<div class="lab" style="top:698px;height:34px;background:#fff"></div>
<span class="t " id="l3" style="left:2462.3px;top:703.2px;font-size:24px;color:#05070c;font-weight:normal;font-family:'Liberation Sans',sans-serif;transform:scaleX(0.9410)">49063.94</span>
<div class="lab" style="top:796px;height:34px;background:#fff"></div>
<span class="t " id="l4" style="left:2462.3px;top:801.3px;font-size:24px;color:#05070c;font-weight:normal;font-family:'Liberation Sans',sans-serif;transform:scaleX(0.9410)">47719.36</span>
<div class="lab" style="top:886px;height:34px;background:#e35446"></div>
<span class="t " id="l5" style="left:2462.3px;top:891.1px;font-size:24px;color:#ffffff;font-weight:normal;font-family:'Liberation Sans',sans-serif;transform:scaleX(0.9410)">46550.99</span>
<span class="t ns" id="W" style="left:2405.4px;top:719.7px;font-size:24px;color:#ffffff;font-weight:normal;font-family:'DejaVu Sans','Liberation Sans',sans-serif;transform:scaleX(0.9101)">W</span>
<span class="t ns" id="inv" style="left:2305.7px;top:911.5px;font-size:24px;color:#e35446;font-weight:normal;font-family:'DejaVu Sans','Liberation Sans',sans-serif;transform:scaleX(1.0087)">Invalidace</span>
</body></html>
